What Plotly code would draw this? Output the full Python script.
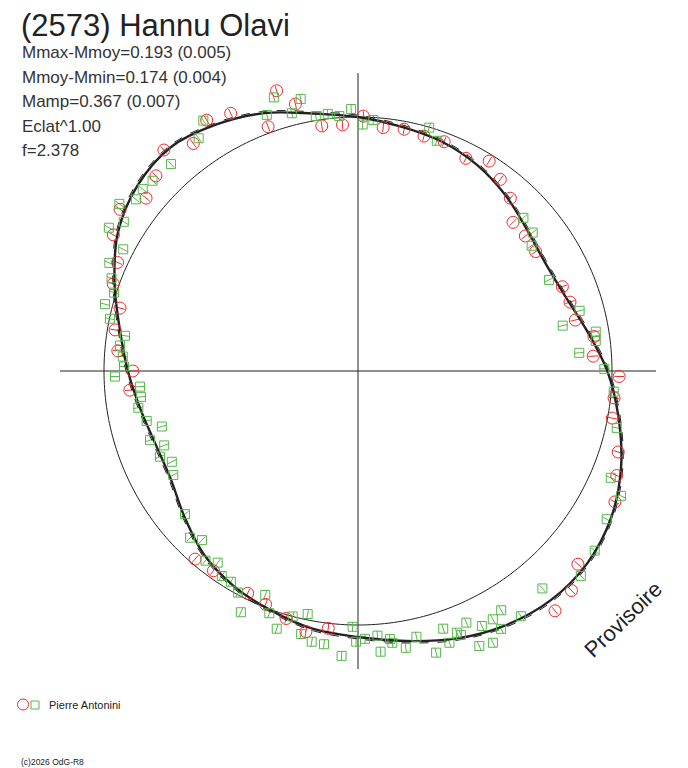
import numpy as np
import plotly.graph_objects as go

# fit curve (relative magnitude vs phase angle, degrees clockwise from top)
fit_angle = list(range(0, 370, 10))
fit_dm = [0.000, -0.025, -0.042, -0.069, -0.106, -0.145, -0.163, -0.146, -0.093, -0.020,
          0.045, 0.112, 0.166, 0.195, 0.196, 0.172, 0.133, 0.087, 0.052, 0.033,
          0.003, -0.024, -0.062, -0.118, -0.163, -0.167, -0.143, -0.103, -0.052, 0.022,
          0.100, 0.147, 0.163, 0.131, 0.088, 0.032, 0.000]

# session 1 (red circles)
red_angle = [140.6, 135.8, 131.3, 86.4, 91.2, 96.0, 100.5, 107.3, 112.0, 117.0,
             1.2, 356.4, 5.9, 10.8, 15.7, 20.6, 26.9, 32.0, 36.6, 41.4,
             46.2, 51.1, 56.1, 67.6, 72.0, 76.8, 81.7,
             343.8, 346.8, 339.8, 333.7, 351.6, 328.9, 324.1, 318.7, 314.0,
             309.2, 304.2, 299.1, 294.3, 289.6, 284.8, 279.6, 274.8, 270.0,
             265.2, 220.9, 215.9, 206.4, 201.6, 196.2, 191.3, 186.6]
red_dm = [0.243, 0.225, 0.167, -0.079, 0.031, 0.015, 0.020, 0.080, 0.108, 0.148,
          0.004, -0.032, -0.040, -0.034, -0.043, -0.039, -0.067, -0.028, -0.066, -0.102,
          -0.169, -0.168, -0.172, -0.142, -0.134, -0.133, -0.067,
          0.163, 0.087, 0.027, 0.144, -0.027, 0.168, 0.116, 0.173, 0.116,
          0.084, 0.145, 0.112, 0.042, 0.025, -0.034, -0.033, -0.056, -0.124,
          -0.108, -0.022, -0.032, -0.025, -0.013, 0.016, 0.051, 0.022]

# session 2 (green squares)
green_angle = [181.2, 180.4, 178.5, 175.8, 175.4, 173.2, 172.8, 170.2, 167.6, 164.5,
               161.7, 161.4, 159.3, 158.7, 156.7, 156.2, 154.1, 151.5, 153.6, 149.1,
               151.0, 146.4, 139.7, 183.3,
               80.6, 82.8, 85.3, 89.5, 94.6, 102.4, 112.9, 115.4, 120.8, 127.2, 132.6,
               358.5, 1.1, 3.5, 16.3, 18.9, 47.2, 51.6, 54.2, 64.5, 74.8, 77.5,
               342.9, 348.1, 340.4, 345.6, 350.6, 353.3, 355.8, 328.3, 325.6, 317.9,
               312.8, 310.2, 307.7, 305.0, 302.5, 299.9, 297.4, 293.5, 290.6, 287.8,
               284.8, 281.9, 278.6, 276.1, 273.5, 271.1, 268.7,
               265.9, 263.2, 260.5, 256.7, 254.2, 251.6, 249.0, 246.6, 244.0, 240.6,
               230.4, 225.2, 222.7, 218.8, 216.2, 213.6, 211.1, 208.4, 205.9, 202.5,
               200.1, 197.5, 194.9, 192.2, 191.7, 189.7, 187.1]
green_dm = [0.008, 0.072, 0.060, 0.049, 0.119, 0.069, 0.086, 0.116, 0.078, 0.165,
            0.075, 0.141, 0.111, 0.126, 0.086, 0.201, 0.127, 0.123, 0.213, 0.107,
            0.176, 0.174, 0.134, 0.135,
            -0.056, -0.062, -0.138, -0.033, 0.011, 0.047, 0.088, 0.160, 0.153, 0.186, 0.210,
            0.035, -0.032, -0.011, -0.002, -0.046, -0.123, -0.134, -0.172, -0.183, -0.105, -0.191,
            0.139, 0.103, 0.077, 0.052, 0.019, 0.021, 0.007, 0.174, 0.121, 0.108,
            0.112, 0.120, 0.115, 0.161, 0.102, 0.144, 0.045, 0.074, 0.040, 0.010,
            0.033, -0.002, -0.079, -0.063, -0.079, -0.086, -0.047,
            -0.153, -0.153, -0.135, -0.159, -0.216, -0.150, -0.200, -0.165, -0.202, -0.181,
            -0.127, -0.075, -0.103, -0.046, -0.071, -0.034, -0.034, -0.009, 0.061, -0.050,
            0.017, 0.070, 0.000, 0.065, -0.025, 0.089, 0.092]
err = 0.021

stats = ["Mmax-Mmoy=0.193 (0.005)", "Mmoy-Mmin=0.174 (0.004)", "Mamp=0.367 (0.007)",
         "Eclat^1.00", "f=2.378"]

# page has an 8px body margin, so the figure is 8px smaller than the window
PAD = 8
W, H = 688 - PAD, 768 - PAD
CX, CY = 358, 371          # centre in window pixels
R0, K = 254, 232           # mean circle radius (px), px per mag
ROUT = 320                 # outer radius of polar area (px)
rmin = -R0 / K
rmax = (ROUT - R0) / K
arm = (298 - R0) / K

RED = "#ee2b2b"
GREEN = "#55b84a"
INK = "#222222"


def px(x):
    return (x - PAD) / W


def py(y):
    return 1 - (y - PAD) / H


def bars(ang, dm, e):
    t, r = [], []
    for a, m in zip(ang, dm):
        t += [a, a, None]
        r += [m - e, m + e, None]
    return t, r


fig = go.Figure()

# cross through the centre
fig.add_trace(go.Scatterpolar(theta=[90, 0, 270], r=[arm, rmin, arm], mode="lines",
                              line=dict(color=INK, width=1), hoverinfo="skip"))
fig.add_trace(go.Scatterpolar(theta=[0, 0, 180], r=[arm, rmin, arm], mode="lines",
                              line=dict(color=INK, width=1), hoverinfo="skip"))
# mean circle
circ_t = np.linspace(0, 360, 361)
fig.add_trace(go.Scatterpolar(theta=circ_t, r=np.zeros_like(circ_t), mode="lines",
                              line=dict(color=INK, width=1), hoverinfo="skip"))

# error bars
for ang, dm, col in [(red_angle, red_dm, RED), (green_angle, green_dm, GREEN)]:
    t, r = bars(ang, dm, err)
    fig.add_trace(go.Scatterpolar(theta=t, r=r, mode="lines",
                                  line=dict(color=col, width=1), hoverinfo="skip"))

# fit
fig.add_trace(go.Scatterpolar(theta=fit_angle, r=fit_dm, mode="lines",
                              line=dict(color=INK, width=2.4, shape="spline")))
fig.add_trace(go.Scatterpolar(theta=fit_angle, r=[v + 0.008 for v in fit_dm], mode="lines",
                              line=dict(color=INK, width=1, dash="dash", shape="spline")))

# data points
fig.add_trace(go.Scatterpolar(theta=red_angle, r=red_dm, mode="markers", cliponaxis=False,
                              marker=dict(symbol="circle-open", size=12, color=RED,
                                          line=dict(width=1))))
fig.add_trace(go.Scatterpolar(theta=green_angle, r=green_dm, mode="markers", cliponaxis=False,
                              marker=dict(symbol="square-open", size=9, color=GREEN,
                                          line=dict(width=1))))

annotations = [dict(text="(2573) Hannu Olavi", x=px(19), y=py(26), xref="paper", yref="paper",
                    xanchor="left", yanchor="middle", showarrow=False,
                    font=dict(size=31, color=INK))]
for i, s in enumerate(stats):
    annotations.append(dict(text=s, x=px(20), y=py(52.5 + 24.5 * i), xref="paper", yref="paper",
                            xanchor="left", yanchor="middle", showarrow=False,
                            font=dict(size=17, color="#333333")))
annotations += [
    dict(text="Provisoire", x=px(623), y=py(619), xref="paper", yref="paper",
         xanchor="center", yanchor="middle",
         textangle=-44, showarrow=False, font=dict(size=22, color=INK)),
    dict(text="Pierre Antonini", x=px(47), y=py(705), xref="paper", yref="paper",
         xanchor="left", yanchor="middle", showarrow=False, font=dict(size=11, color=INK)),
    dict(text="(c)2026 OdG-R8", x=px(19), y=py(762), xref="paper", yref="paper",
         xanchor="left", yanchor="middle", showarrow=False, font=dict(size=8.5, color=INK)),
]

shapes = [
    dict(type="circle", xref="paper", yref="paper", x0=px(17.5), x1=px(28.5),
         y0=py(710), y1=py(699), line=dict(color=RED, width=1)),
    dict(type="rect", xref="paper", yref="paper", x0=px(31), x1=px(39),
         y0=py(709), y1=py(701), line=dict(color=GREEN, width=1)),
]

fig.update_layout(
    width=W, height=H,
    margin=dict(l=0, r=0, t=0, b=0),
    paper_bgcolor="white",
    showlegend=False,
    font=dict(family="Arial, Liberation Sans, sans-serif"),
    polar=dict(
        domain=dict(x=[px(CX - ROUT), px(CX + ROUT)],
                    y=[py(CY + ROUT), py(CY - ROUT)]),
        bgcolor="white",
        radialaxis=dict(range=[rmin, rmax], visible=False),
        angularaxis=dict(rotation=90, direction="clockwise", showline=False,
                         showgrid=False, showticklabels=False, ticks=""),
    ),
    annotations=annotations,
    shapes=shapes,
)

fig.write_html("out.html")
